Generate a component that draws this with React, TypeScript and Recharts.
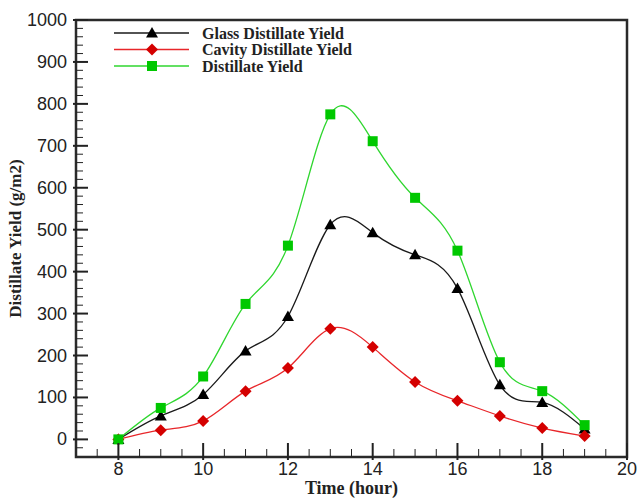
import React from "react";
import {
  LineChart,
  Line,
  XAxis,
  YAxis,
  ReferenceArea,
  Legend,
} from "recharts";

// values
const hours = [8, 9, 10, 11, 12, 13, 14, 15, 16, 17, 18, 19];
const glassYield = [0, 56, 107, 211, 293, 512, 493, 440, 360, 130, 88, 25];
const cavityYield = [0, 22, 44, 115, 170, 264, 220, 137, 92, 56, 27, 8];
const totalYield = [0, 75, 150, 323, 462, 775, 711, 576, 450, 184, 115, 34];

const xMajorTicks = [8, 10, 12, 14, 16, 18, 20];
const xTicks = [
  7.5, 8, 8.5, 9, 9.5, 10, 10.5, 11, 11.5, 12, 12.5, 13, 13.5, 14, 14.5, 15,
  15.5, 16, 16.5, 17, 17.5, 18, 18.5, 19, 19.5, 20,
];
const yMajorTicks = [0, 100, 200, 300, 400, 500, 600, 700, 800, 900, 1000];
const yTicks = [
  -20, 0, 20, 40, 60, 80, 100, 120, 140, 160, 180, 200, 220, 240, 260, 280,
  300, 320, 340, 360, 380, 400, 420, 440, 460, 480, 500, 520, 540, 560, 580,
  600, 620, 640, 660, 680, 700, 720, 740, 760, 780, 800, 820, 840, 860, 880,
  900, 920, 940, 960, 980, 1000,
];

const X_DOMAIN: [number, number] = [7, 20];
const Y_DOMAIN: [number, number] = [-42, 1000];

const chartData = hours.map((h, i) => ({
  hour: h,
  glass: glassYield[i],
  cavity: cavityYield[i],
  total: totalYield[i],
}));

const TICK_FONT = "'Liberation Sans', Arial, sans-serif";
const SERIF = "'Liberation Serif', 'Times New Roman', serif";
const AXIS_COLOR = "#222";

const COLORS = {
  glass: { line: "#1a1a1a", mark: "#000000" },
  cavity: { line: "#e8262a", mark: "#d40000" },
  total: { line: "#2fd62f", mark: "#00c800" },
};

// marker shapes
const Marker = ({ kind, cx, cy }: { kind: string; cx: number; cy: number }) => {
  if (kind === "glass") {
    const s = 6;
    return (
      <polygon
        points={`${cx},${cy - s} ${cx + s},${cy + s * 0.75} ${cx - s},${cy + s * 0.75}`}
        fill={COLORS.glass.mark}
      />
    );
  }
  if (kind === "cavity") {
    const s = 6;
    return (
      <polygon
        points={`${cx},${cy - s} ${cx + s},${cy} ${cx},${cy + s} ${cx - s},${cy}`}
        fill={COLORS.cavity.mark}
      />
    );
  }
  return (
    <rect x={cx - 5} y={cy - 5} width={10} height={10} fill={COLORS.total.mark} />
  );
};

const makeDot = (kind: string) => (props: any) => {
  const { cx, cy, index } = props;
  if (cx == null || cy == null) return <g key={`${kind}-${index}`} />;
  return (
    <g key={`${kind}-${index}`}>
      <Marker kind={kind} cx={cx} cy={cy} />
    </g>
  );
};

// y ticks drawn inward from the frame, labels only on majors
const YTick = (props: any) => {
  const { x, y, payload } = props;
  const v = payload.value;
  const major = yMajorTicks.includes(v);
  return (
    <g>
      <line
        x1={major ? x - 3 : x}
        x2={x + (major ? 12 : 7)}
        y1={y}
        y2={y}
        stroke={AXIS_COLOR}
        strokeWidth={major ? 2 : 1}
      />
      {major && (
        <text
          x={x - 9}
          y={y}
          textAnchor="end"
          dominantBaseline="central"
          fontFamily={TICK_FONT}
          fontSize={18}
          fill={AXIS_COLOR}
        >
          {v}
        </text>
      )}
    </g>
  );
};

const XTick = (props: any) => {
  const { x, y, payload } = props;
  const v = payload.value;
  const major = xMajorTicks.includes(v);
  return (
    <g>
      <line
        x1={x}
        x2={x}
        y1={major ? y + 3 : y}
        y2={y - (major ? 14 : 8)}
        stroke={AXIS_COLOR}
        strokeWidth={major ? 2 : 1}
      />
      {major && (
        <text
          x={x}
          y={y + 12}
          textAnchor="middle"
          dominantBaseline="central"
          fontFamily={TICK_FONT}
          fontSize={18}
          fill={AXIS_COLOR}
        >
          {v}
        </text>
      )}
    </g>
  );
};

const legendOrder = ["glass", "cavity", "total"];

const CustomLegend = (props: any) => {
  const payload = (props.payload || []).slice().sort(
    (a: any, b: any) =>
      legendOrder.indexOf(a.dataKey) - legendOrder.indexOf(b.dataKey)
  );
  return (
    <svg width={300} height={52} style={{ display: "block" }}>
      {payload.map((entry: any, i: number) => {
        const kind = entry.dataKey as keyof typeof COLORS;
        const cy = 8 + i * 16.5;
        return (
          <g key={kind}>
            <line
              x1={0}
              x2={75}
              y1={cy}
              y2={cy}
              stroke={COLORS[kind].line}
              strokeWidth={1.3}
            />
            <Marker kind={kind} cx={38} cy={cy} />
            <text
              x={88}
              y={cy}
              dominantBaseline="central"
              fontFamily={SERIF}
              fontWeight="bold"
              fontSize={16}
              fill="#222"
            >
              {entry.value}
            </text>
          </g>
        );
      })}
    </svg>
  );
};

export default function App() {
  return (
    <div
      style={{
        position: "absolute",
        left: 0,
        top: 0,
        width: 641,
        height: 498,
        background: "#fff",
      }}
    >
      <LineChart
        width={641}
        height={498}
        data={chartData}
        margin={{ top: 20, right: 14, bottom: 0, left: 0 }}
      >
        <XAxis
          dataKey="hour"
          type="number"
          domain={X_DOMAIN}
          ticks={xTicks}
          interval={0}
          allowDataOverflow
          axisLine={false}
          tickLine={false}
          tickSize={0}
          tickMargin={0}
          height={41}
          tick={<XTick />}
        />
        <YAxis
          type="number"
          domain={Y_DOMAIN}
          ticks={yTicks}
          interval={0}
          allowDataOverflow
          axisLine={false}
          tickLine={false}
          tickSize={0}
          tickMargin={0}
          width={76}
          tick={<YTick />}
          label={{
            value: "Distillate Yield (g/m2)",
            angle: -90,
            position: "insideLeft",
            offset: 0,
            dx: 15,
            style: {
              textAnchor: "middle",
              fontFamily: SERIF,
              fontWeight: "bold",
              fontSize: 17,
              fill: "#222",
            },
          }}
        />
        <ReferenceArea
          x1={X_DOMAIN[0]}
          x2={X_DOMAIN[1]}
          y1={Y_DOMAIN[0]}
          y2={Y_DOMAIN[1]}
          fill="none"
          stroke="#2a2a2a"
          strokeWidth={2.5}
        />
        <Legend
          layout="vertical"
          align="center"
          verticalAlign="middle"
          content={<CustomLegend />}
          wrapperStyle={{ left: 114, top: 25, width: 300, height: 52 }}
        />
        <Line
          name="Glass Distillate Yield"
          dataKey="glass"
          type="natural"
          stroke={COLORS.glass.line}
          strokeWidth={1.3}
          dot={makeDot("glass")}
          activeDot={false}
          isAnimationActive={false}
        />
        <Line
          name="Cavity Distillate Yield"
          dataKey="cavity"
          type="natural"
          stroke={COLORS.cavity.line}
          strokeWidth={1.3}
          dot={makeDot("cavity")}
          activeDot={false}
          isAnimationActive={false}
        />
        <Line
          name="Distillate Yield"
          dataKey="total"
          type="natural"
          stroke={COLORS.total.line}
          strokeWidth={1.3}
          dot={makeDot("total")}
          activeDot={false}
          isAnimationActive={false}
        />
      </LineChart>
      <div
        style={{
          position: "absolute",
          left: 76,
          width: 551,
          top: 477,
          textAlign: "center",
          fontFamily: SERIF,
          fontWeight: "bold",
          fontSize: 18,
          color: "#222",
          lineHeight: "22px",
        }}
      >
        Time (hour)
      </div>
    </div>
  );
}
